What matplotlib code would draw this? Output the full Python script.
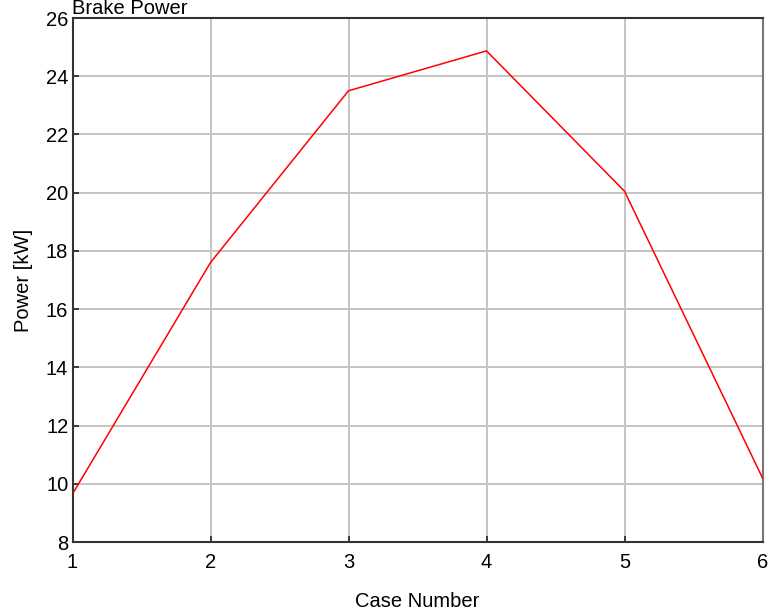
# Brake power for each test case
import matplotlib.pyplot as plt

plt.rcParams['font.family'] = ['Liberation Sans', 'DejaVu Sans']

case_number = [1, 2, 3, 4, 5, 6]
brake_power = [9.65, 17.6, 23.5, 24.87, 20.05, 10.2]


def plot_power(cases, power):
    fig = plt.figure(figsize=(7.73, 6.16), dpi=100)
    ax = fig.add_axes([72.5 / 773, 1 - 542 / 616, 690 / 773, 524 / 616])
    ax.plot(cases, power, color='red', linewidth=1.1, zorder=3)
    ax.set_xlim(1, 6)
    ax.set_ylim(8, 26)
    ax.set_xticks(cases)
    ax.set_yticks(range(8, 27, 2))
    ax.grid(True, color='#c4c4c4', linewidth=1.4)
    ax.set_axisbelow(True)
    for side in ['left', 'bottom', 'top']:
        ax.spines[side].set_color('#333333')
        ax.spines[side].set_linewidth(1.5)
    ax.spines['right'].set_color('#777777')
    ax.spines['right'].set_linewidth(1.5)
    ax.tick_params(direction='in', length=4, width=1.2, labelsize=14.5,
                   color='#222222')
    ax.tick_params(axis='x', pad=8)
    ax.tick_params(axis='y', pad=3)
    ax.set_xlabel('Case Number', fontsize=14.5, labelpad=14)
    ax.set_ylabel('Power [kW]', fontsize=14.5, labelpad=9)
    ax.set_title('Brake Power', loc='left', fontsize=14.5, pad=1)
    fig.savefig('out.png', dpi=100)


if __name__ == "__main__":
    plot_power(case_number, brake_power)
